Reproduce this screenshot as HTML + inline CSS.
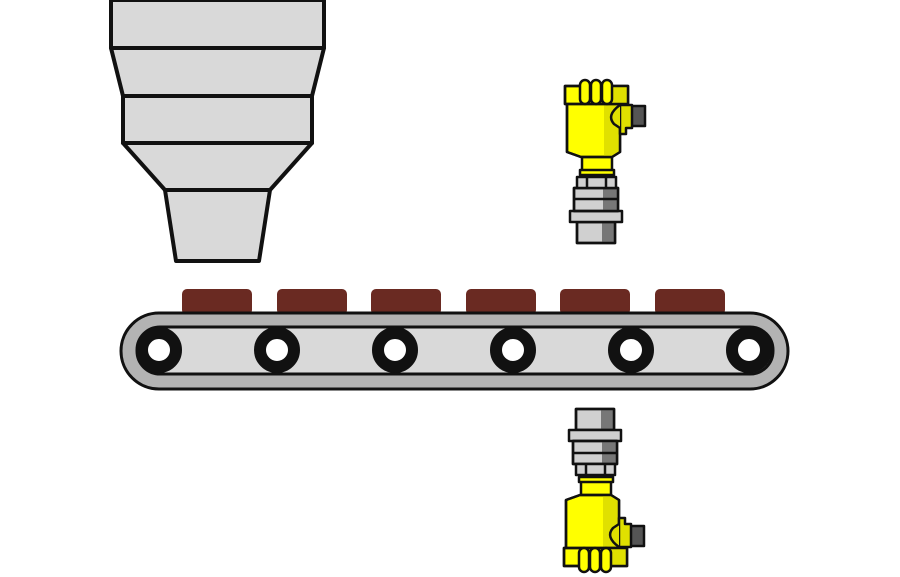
<!DOCTYPE html>
<html><head><meta charset="utf-8"><style>html,body{margin:0;padding:0;background:#fff}svg{display:block}</style></head>
<body>
<svg width="900" height="577" viewBox="0 0 900 577" xmlns="http://www.w3.org/2000/svg">
<g stroke="#111" stroke-width="4" stroke-linejoin="round" fill="#d9d9d9">
  <rect x="111" y="0" width="213" height="48"/>
  <polygon points="111,48 324,48 312,96 123,96"/>
  <rect x="123" y="96" width="189" height="47"/>
  <polygon points="123,143 312,143 270,190 165,190"/>
  <polygon points="165,190 270,190 259,261 176,261"/>
</g>
<g fill="#6a2a22">
  <rect x="182" y="289" width="70" height="26" rx="5"/>
  <rect x="277" y="289" width="70" height="26" rx="5"/>
  <rect x="371" y="289" width="70" height="26" rx="5"/>
  <rect x="466" y="289" width="70" height="26" rx="5"/>
  <rect x="560" y="289" width="70" height="26" rx="5"/>
  <rect x="655" y="289" width="70" height="26" rx="5"/>
</g>
<rect x="121" y="313" width="667" height="76" rx="38" fill="#b3b3b3" stroke="#111" stroke-width="3"/>
<rect x="137" y="327" width="636" height="47" rx="23" fill="#d9d9d9" stroke="#111" stroke-width="3"/>
<g fill="#fff" stroke="#111" stroke-width="12">
  <circle cx="159" cy="350" r="17"/>
  <circle cx="277" cy="350" r="17"/>
  <circle cx="395" cy="350" r="17"/>
  <circle cx="513" cy="350" r="17"/>
  <circle cx="631" cy="350" r="17"/>
  <circle cx="749" cy="350" r="17"/>
</g>
<defs>
<g id="sensor" stroke="#111" stroke-width="2.5" stroke-linejoin="round">
  <rect x="577" y="222" width="38" height="21" fill="#d0d0d0"/>
  <rect x="602" y="222" width="13" height="21" fill="#777" stroke="none"/>
  <rect x="577" y="222" width="38" height="21" fill="none"/>
  <rect x="570" y="211" width="52" height="11" fill="#d0d0d0"/>
  <rect x="574" y="188" width="44" height="23" fill="#d0d0d0"/>
  <rect x="603" y="188" width="15" height="23" fill="#777" stroke="none"/>
  <rect x="574" y="188" width="44" height="23" fill="none"/>
  <line x1="574" y1="199" x2="618" y2="199"/>
  <rect x="577" y="177" width="39" height="11" fill="#d0d0d0"/>
  <line x1="587" y1="177" x2="587" y2="188"/><line x1="606" y1="177" x2="606" y2="188"/>
  <rect x="582" y="155" width="30" height="16" fill="#ffff00"/>
  <rect x="580" y="170" width="34" height="5" fill="#ffff00"/>
  <rect x="628" y="106" width="17" height="20" fill="#555"/>
  <path d="M567,103 L620,103 L620,152 L612,157 L581,157 L567,152 Z" fill="#ffff00"/>
  <path d="M604,103 L620,103 L620,152 L612,157 L604,157 Z" fill="#e0e000" stroke="none"/>
  <path d="M567,103 L620,103 L620,152 L612,157 L581,157 L567,152 Z" fill="none"/>
  <path d="M620,105 L632,105 L632,128 L626,128 L626,134 L620,134 Z" fill="#e0e000"/>
  <path d="M620,105 Q606,115 614,124 L620,128" fill="#e0e000"/>
  <rect x="565" y="86" width="63" height="18" fill="#ffff00"/>
  <rect x="604" y="86" width="24" height="18" fill="#e0e000" stroke="none"/>
  <rect x="565" y="86" width="63" height="18" fill="none"/>
  <rect x="580" y="80" width="10" height="24" rx="5" fill="#ffff00"/>
  <rect x="591" y="80" width="10" height="24" rx="5" fill="#ffff00"/>
  <rect x="602" y="80" width="10" height="24" rx="5" fill="#ffff00"/>
</g>
</defs>
<use href="#sensor"/>
<use href="#sensor" transform="translate(-1,652) scale(1,-1)"/>
</svg>
</body></html>
